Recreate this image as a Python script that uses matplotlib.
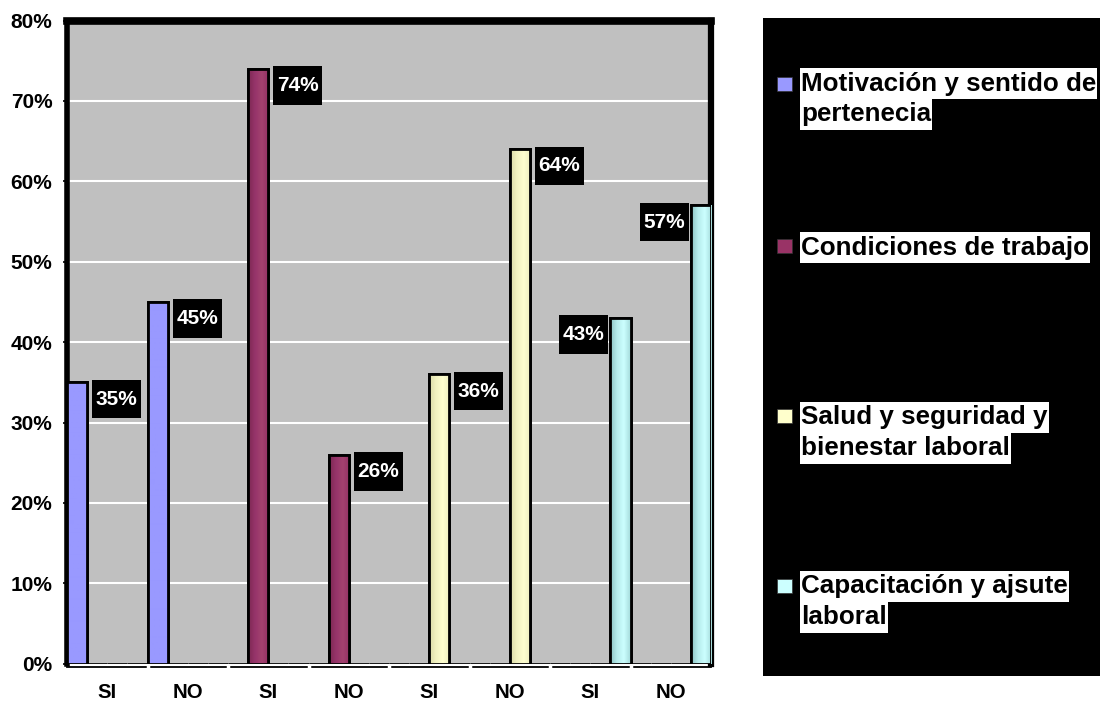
import matplotlib
matplotlib.use('Agg')
import matplotlib.pyplot as plt
import matplotlib.transforms as mtransforms
from matplotlib.patches import Rectangle
from matplotlib.colors import LinearSegmentedColormap
import numpy as np

# ---- data ----
categories = ['SI', 'NO', 'SI', 'NO', 'SI', 'NO', 'SI', 'NO']
series_names = ['Motivación y sentido de\npertenecia',
                'Condiciones de trabajo',
                'Salud y seguridad y\nbienestar laboral',
                'Capacitación y ajsute\nlaboral']
motivacion = [35, 45, 0, 0, 0, 0, 0, 0]
condiciones = [0, 0, 74, 26, 0, 0, 0, 0]
salud = [0, 0, 0, 0, 36, 64, 0, 0]
capacitacion = [0, 0, 0, 0, 0, 0, 43, 57]
y_ticks = [0, 10, 20, 30, 40, 50, 60, 70, 80]

# ---- styling ----
base_colors = ['#9999FF', '#993366', '#FFFFCC', '#CCFFFF']
shades = [
    ['#9999FF', '#9999FF'],
    ['#7C2852', '#96346A', '#A3426F', '#933064'],
    ['#DADAA8', '#F2F2C0', '#FFFFD0', '#EDEDBE'],
    ['#8CC2C2', '#B6ECEC', '#CCFFFF', '#A4DADA'],
]
label_on_left = [False, False, False, True]

W, H = 1100, 702
plt.rcParams['font.family'] = ['Liberation Sans', 'DejaVu Sans']
plt.rcParams['font.weight'] = 'bold'

fig = plt.figure(figsize=(W / 100, H / 100), dpi=100)
fig.patch.set_facecolor('white')


def fx(px):
    return px / W


def fy(py):
    return 1 - py / H


ax = fig.add_axes([fx(67), fy(663.7), 644 / W, 643.2 / H])
ax.set_facecolor('#C0C0C0')
ax.set_axisbelow(True)
ax.yaxis.grid(True, color='white', linewidth=1.5)

series = [motivacion, condiciones, salud, capacitacion]
n = len(series)
width = 1.0 / n
xs = np.arange(len(categories))

label_jobs = []
for j, vals in enumerate(series):
    pos = xs - 0.5 + (j + 0.5) * width
    bars = ax.bar(pos, vals, width, color=base_colors[j], edgecolor='black',
                  linewidth=2, zorder=3)
    cmap = LinearSegmentedColormap.from_list(f'shade{j}', shades[j])
    grad = cmap(np.linspace(0, 1, 64))[None, :, :]
    for bar, v in zip(bars, vals):
        if v <= 0:
            continue
        x0 = bar.get_x()
        w = bar.get_width()
        im = ax.imshow(grad, extent=[x0, x0 + w, 0, v], aspect='auto',
                       interpolation='bilinear', zorder=3.05)
        im.set_clip_path(bar)
        ax.add_patch(Rectangle((x0, 0), w, v, fill=False, edgecolor='black',
                               linewidth=2, zorder=3.1))
        label_jobs.append((x0, w, v, label_on_left[j]))

ax.set_xlim(-0.5, len(categories) - 0.5)
ax.set_ylim(0, 80)

# axes frame
for side, lw in (('top', 5.5), ('left', 4.0), ('right', 4.5)):
    ax.spines[side].set_linewidth(lw)
    ax.spines[side].set_color('black')
    ax.spines[side].set_capstyle('projecting')
ax.spines['bottom'].set_linewidth(1.3)
ax.spines['bottom'].set_position(('outward', 2.2))

ax.set_yticks(y_ticks)
ax.set_yticklabels([f'{v}%' for v in y_ticks], fontsize=15, fontweight='bold')
ax.tick_params(axis='y', direction='out', length=3, width=1.2, pad=7.5)

ax.set_xticks(xs)
ax.set_xticklabels(categories, fontsize=14.7, fontweight='bold')
ax.tick_params(axis='x', which='major', length=0, pad=12)
ax.set_xticks(np.arange(0.5, len(categories) - 1, 1), minor=True)
ax.tick_params(axis='x', which='minor', color='white', direction='inout',
               length=5, width=2.5)
ax.xaxis.set_zorder(3.5)

# value labels: black boxes with white text beside each bar
box_w, box_h = 49, 38.5
for x0, w, v, left in label_jobs:
    if left:
        anchor_x, dx = x0, -2 - box_w
    else:
        anchor_x, dx = x0 + w, 5
    trans = mtransforms.Affine2D() + mtransforms.ScaledTranslation(
        anchor_x, v, ax.transData)
    dy = 2.5 - box_h
    fig.add_artist(Rectangle((dx, dy), box_w, box_h, facecolor='black',
                             edgecolor='none', transform=trans, zorder=5))
    fig.text(dx + box_w / 2, dy + box_h / 2, f'{v}%', transform=trans,
             color='white', fontsize=15, fontweight='bold',
             ha='center', va='center', zorder=6)

# legend panel
fig.add_artist(Rectangle((fx(763), fy(676)), (1110 - 763) / W, (676 - 17.5) / H,
                         facecolor='black', edgecolor='none',
                         transform=fig.transFigure, zorder=1))

line_centres = [[83.5, 114.5], [247.5], [417, 448], [586, 617.5]]
marker_centres = [84, 246, 416, 586]
texts = []
for j, name in enumerate(series_names):
    mc = marker_centres[j]
    fig.add_artist(Rectangle((fx(777), fy(mc + 7)), 15 / W, 14 / H,
                             facecolor=base_colors[j], edgecolor='#333333',
                             linewidth=0.5, transform=fig.transFigure, zorder=3))
    for line, yc in zip(name.split('\n'), line_centres[j]):
        t = fig.text(fx(801), fy(yc), line, fontsize=18.7, fontweight='bold',
                     color='black', ha='left', va='center', zorder=4)
        texts.append((t, yc))

fig.canvas.draw()
renderer = fig.canvas.get_renderer()
for t, yc in texts:
    bb = t.get_window_extent(renderer)
    x0 = bb.x0 - 1
    x1 = bb.x1 + 1
    fig.add_artist(Rectangle((x0 / W, fy(yc + 15.5)), (x1 - x0) / W, 31 / H,
                             facecolor='white', edgecolor='none',
                             transform=fig.transFigure, zorder=2))

fig.savefig('out.png', dpi=100, facecolor='white')
